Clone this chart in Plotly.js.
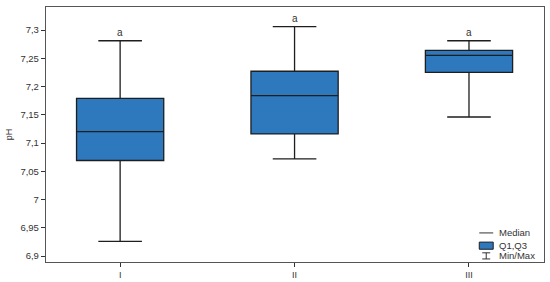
<!DOCTYPE html>
<html>
<head>
<meta charset="utf-8">
<script src="https://cdn.plot.ly/plotly-3.0.1.min.js"></script>
<style>
	body { margin: 0; background: #fff; }
	#chart { width: 550px; height: 282px; }
</style>
</head>
<body>
<div id="chart"></div>
<script>
var groups = ['I', 'II', 'III'];
var minVals = [6.926, 7.072, 7.146];
var q1Vals = [7.069, 7.116, 7.225];
var medVals = [7.12, 7.184, 7.255];
var q3Vals = [7.179, 7.227, 7.264];
var maxVals = [7.281, 7.306, 7.281];
var letters = ['a', 'a', 'a'];

function main(){
	var boxColor = 'rgb(46, 120, 190)';
	var edgeColor = '#1e1e1e';

	var trace = {
		type: 'box',
		x: groups,
		q1: q1Vals,
		median: medVals,
		q3: q3Vals,
		lowerfence: minVals,
		upperfence: maxVals,
		fillcolor: boxColor,
		line: { color: edgeColor, width: 1.3 },
		whiskerwidth: 0.5,
		boxpoints: false,
		hoverinfo: 'skip',
		showlegend: false
	};

	var notes = groups.map(function(g, i){
		return {
			x: g, y: maxVals[i], xref: 'x', yref: 'y',
			text: letters[i], showarrow: false,
			yanchor: 'bottom', yshift: 1,
			font: { size: 10, color: '#333' }
		};
	});

	// legend drawn by hand (paper coords)
	var legX0 = 0.87, legX1 = 0.898, legText = 0.906;
	var shapes = [
		{ type: 'line', xref: 'paper', yref: 'paper', x0: legX0, x1: legX1, y0: 0.114, y1: 0.114,
		  line: { color: '#333', width: 1 } },
		{ type: 'rect', xref: 'paper', yref: 'paper', x0: legX0, x1: legX1, y0: 0.05, y1: 0.078,
		  fillcolor: boxColor, line: { color: edgeColor, width: 1 } },
		{ type: 'line', xref: 'paper', yref: 'paper', x0: 0.876, x1: 0.892, y0: 0.036, y1: 0.036,
		  line: { color: '#333', width: 1 } },
		{ type: 'line', xref: 'paper', yref: 'paper', x0: 0.884, x1: 0.884, y0: 0.036, y1: 0.012,
		  line: { color: '#333', width: 1 } },
		{ type: 'line', xref: 'paper', yref: 'paper', x0: 0.876, x1: 0.892, y0: 0.012, y1: 0.012,
		  line: { color: '#333', width: 1 } }
	];
	var legLabels = ['Median', 'Q1,Q3', 'Min/Max'];
	var legY = [0.114, 0.066, 0.024];
	legLabels.forEach(function(t, i){
		notes.push({
			xref: 'paper', yref: 'paper', x: legText, y: legY[i],
			xanchor: 'left', yanchor: 'middle', text: t, showarrow: false,
			font: { size: 9.5, color: '#333' }
		});
	});

	var layout = {
		width: 550,
		height: 282,
		margin: { l: 46, r: 6, t: 7, b: 20 },
		paper_bgcolor: '#fff',
		plot_bgcolor: '#fff',
		separators: ', ',
		font: { family: 'Liberation Sans, Arial, sans-serif', size: 10, color: '#333' },
		boxgap: 0.5,
		boxgroupgap: 0,
		xaxis: {
			type: 'category',
			range: [-0.425, 2.43],
			showgrid: false,
			zeroline: false,
			showline: true,
			linecolor: '#555',
			linewidth: 1.2,
			mirror: true,
			ticks: 'outside',
			ticklen: 4,
			tickcolor: '#333',
			tickfont: { size: 9, color: '#333' }
		},
		yaxis: {
			title: { text: 'pH', font: { size: 9, color: '#333' }, standoff: 6 },
			range: [6.8894, 7.3407],
			tick0: 6.9,
			dtick: 0.05,
			showgrid: false,
			zeroline: false,
			showline: true,
			linecolor: '#555',
			linewidth: 1.2,
			mirror: true,
			ticks: 'outside',
			ticklen: 4,
			tickcolor: '#333',
			tickfont: { size: 9.5, color: '#333' }
		},
		shapes: shapes,
		annotations: notes
	};

	Plotly.newPlot('chart', [trace], layout, { displayModeBar: false, staticPlot: true });
}
main();
</script>
</body>
</html>
